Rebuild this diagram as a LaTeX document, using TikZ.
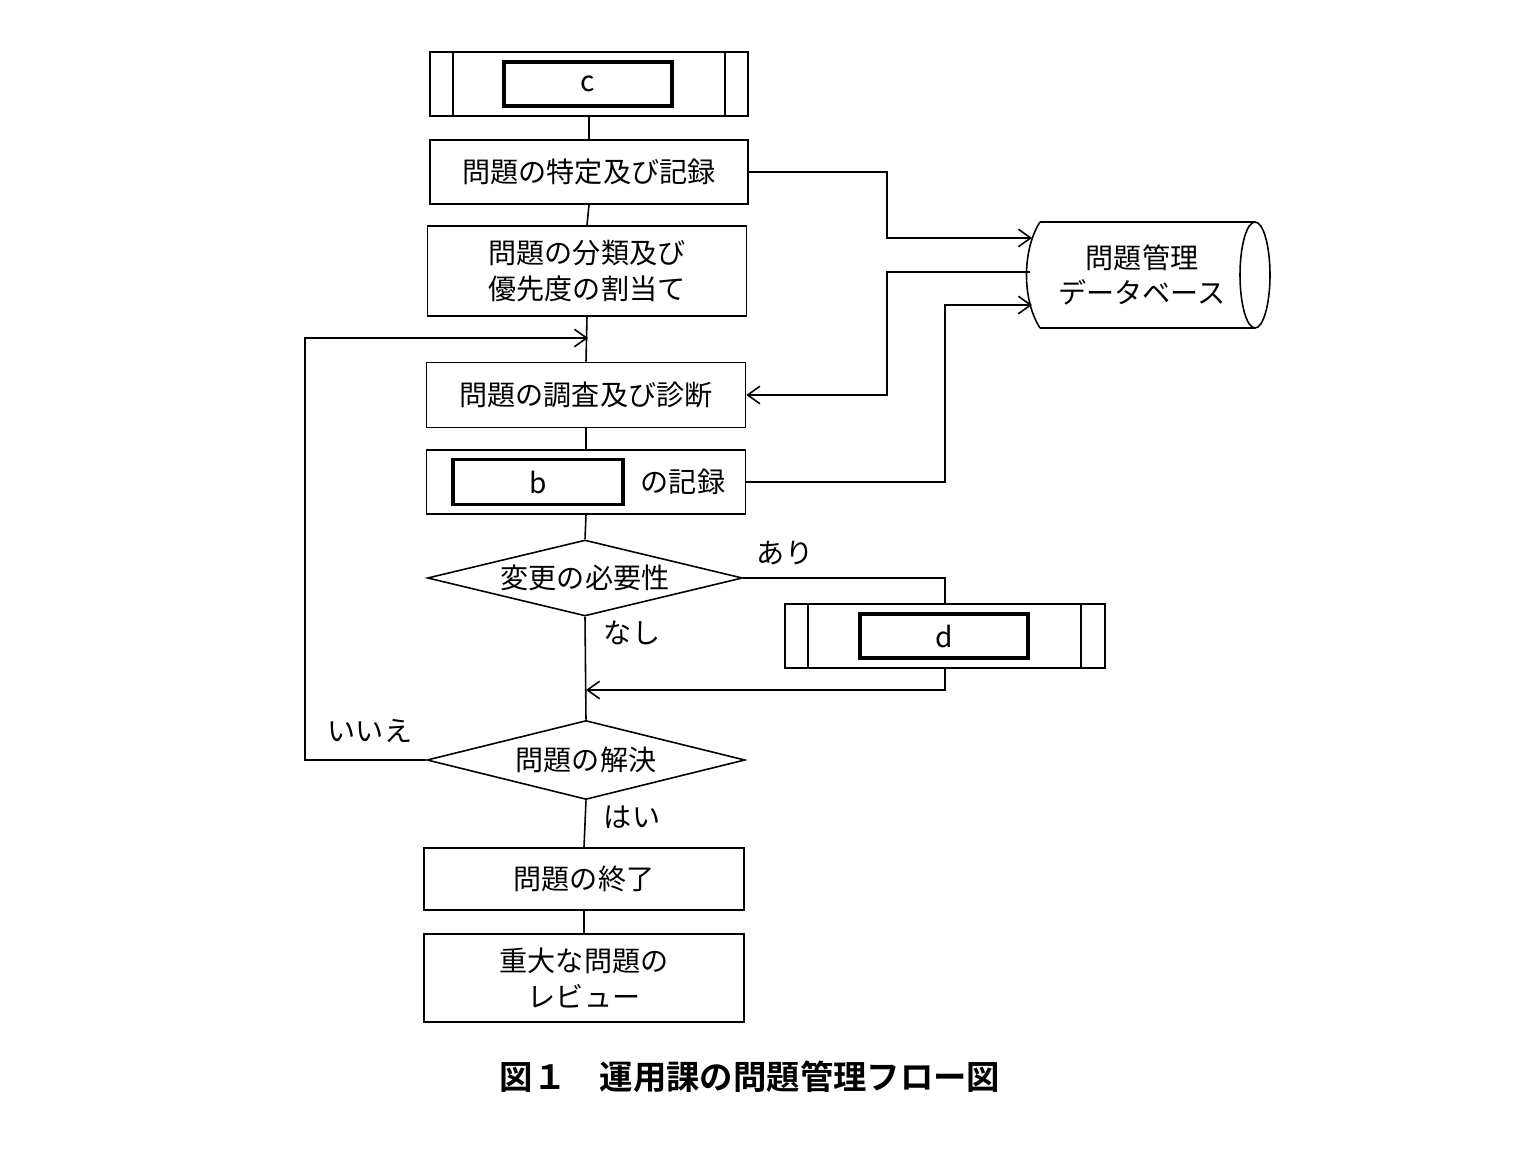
\documentclass[tikz,border=0pt]{standalone}
\usepackage{fontspec}
\setmainfont{Noto Sans CJK JP}
\newfontfamily\jpb{Noto Sans CJK JP}[BoldFont={* Bold}]
\usetikzlibrary{shapes.geometric,arrows.meta}
\begin{document}
\begin{tikzpicture}[x=0.02cm,y=-0.02cm,
  every node/.style={font=\fontsize{16}{20}\selectfont},
  box/.style={draw,line width=0.9pt,inner sep=0pt},
  inner/.style={draw,line width=2pt,inner sep=0pt},
  ln/.style={line width=0.9pt},
  arr/.style={ln,-{Straight Barb[length=7pt,width=10pt]}},
  dia/.style={draw,line width=0.9pt,diamond,aspect=4,inner sep=0pt}]
\useasboundingbox (0,0) rectangle (1536,1166);
% c box
\node[box,minimum width=318*0.02cm,minimum height=64*0.02cm] (c) at (589,84) {};
\draw[ln] (453,52) -- (453,116) (725,52) -- (725,116);
\node[inner,minimum width=168*0.02cm,minimum height=44*0.02cm] (ci) at (588,84) {c};
\node[box,minimum width=318*0.02cm,minimum height=64*0.02cm] (b1) at (589,172) {問題の特定及び記録};
\node[box,minimum width=319*0.02cm,minimum height=90*0.02cm,align=center] (b2) at (587,271) {問題の分類及び\\優先度の割当て};
\node[box,minimum width=319*0.02cm,minimum height=65*0.02cm] (b3) at (586,395) {問題の調査及び診断};
\node[box,minimum width=319*0.02cm,minimum height=64*0.02cm] (b4) at (586,482) {};
\node[inner,minimum width=170*0.02cm,minimum height=45*0.02cm] (bi) at (538,482) {b};
\node (bt) at (683,482) {の記録};
\node[dia,minimum width=315*0.02cm,minimum height=76*0.02cm] (d1) at (585,578) {変更の必要性};
\node (ari) at (785,553) {あり};
\node (nashi) at (632,633) {なし};
\node[box,minimum width=320*0.02cm,minimum height=64*0.02cm] (d) at (945,636) {};
\draw[ln] (808,604) -- (808,668) (1081,604) -- (1081,668);
\node[inner,minimum width=168*0.02cm,minimum height=44*0.02cm] (di) at (944,636) {d};
\node[dia,minimum width=318*0.02cm,minimum height=79*0.02cm] (d2) at (586,760) {問題の解決};
\node (iie) at (370,731) {いいえ};
\node (hai) at (632,817) {はい};
\node[box,minimum width=320*0.02cm,minimum height=62*0.02cm] (b5) at (584,879) {問題の終了};
\node[box,minimum width=320*0.02cm,minimum height=88*0.02cm,align=center] (b6) at (584,978) {重大な問題の\\レビュー};
\node[font=\jpb\bfseries\fontsize{19}{22}\selectfont] (cap) at (750,1077) {図１\quad 運用課の問題管理フロー図};
% cylinder
\draw[ln] (1040,222) -- (1255,222) (1040,328) -- (1255,328);
\draw[ln] (1255,275) ellipse [x radius=15, y radius=53];
\draw[ln] (1040,222) .. controls (1022,250) and (1022,300) .. (1040,328);
\node[align=center] (db) at (1142,275) {問題管理\\データベース};
\coordinate (dbA) at (1032,238);
\coordinate (dbB) at (1030,272);
\coordinate (dbC) at (1032,305);
% main column
\draw[ln] (c.south) -- (b1.north);
\draw[ln] (b1.south) -- (b2.north);
\draw[ln] (b2.south) -- (b3.north);
\draw[ln] (b3.south) -- (b4.north);
\draw[ln] (b4.south) -- (d1.north);
\draw[ln] (d1.south) -- (d2.north);
\draw[ln] (d2.south) -- (b5.north);
\draw[ln] (b5.south) -- (b6.north);
% side connectors
\draw[arr] (b1.east) -| (887,238) -- (dbA);
\draw[arr] (dbB) -- (887,272) |- (b3.east);
\draw[arr] (b4.east) -| (945,305) -- (dbC);
\draw[ln] (d1.east) -| (d.north);
\draw[arr] (d.south) |- (586,690);
\draw[arr] (d2.west) -- (305,760) |- (588,338);
\end{tikzpicture}
\end{document}
